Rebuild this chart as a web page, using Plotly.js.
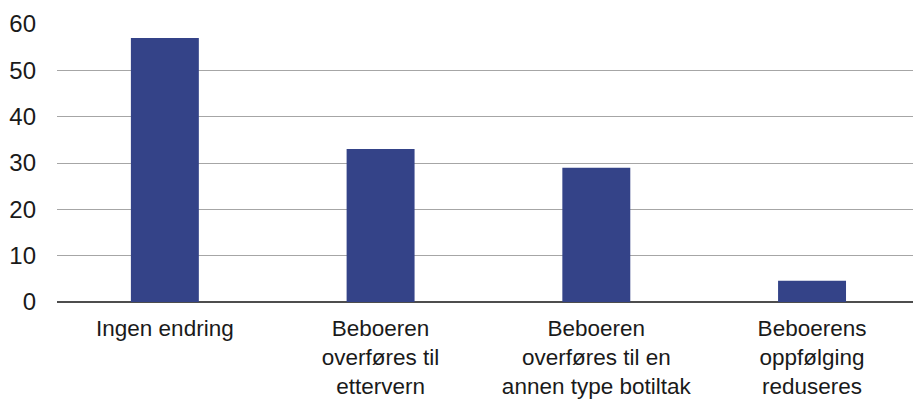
<!DOCTYPE html>
<html>
<head>
<meta charset="utf-8">
<script src="https://cdn.plot.ly/plotly-3.0.1.min.js"></script>
<style>html,body{margin:0;padding:0;background:#fff;}#chart{width:913px;height:400px;}</style>
</head>
<body>
<div id="chart"></div>
<script>
const categories = [
  "Ingen endring",
  "Beboeren<br>overføres til<br>ettervern",
  "Beboeren<br>overføres til en<br>annen type botiltak",
  "Beboerens<br>oppfølging<br>reduseres"
];
const values = [57, 33, 29, 4.6];
const yTicks = [0, 10, 20, 30, 40, 50, 60];

const trace = {
  type: 'bar',
  x: categories,
  y: values,
  width: 0.315,
  marker: {color: '#344388'},
  hoverinfo: 'x+y'
};

const layout = {
  width: 913,
  height: 400,
  margin: {l: 57, r: 0, t: 24, b: 98},
  paper_bgcolor: '#ffffff',
  plot_bgcolor: '#ffffff',
  showlegend: false,
  font: {family: 'Liberation Sans, Arial, sans-serif', size: 22.5, color: '#1a1a1a'},
  xaxis: {
    type: 'category',
    range: [-0.5, 3.468],
    showgrid: false,
    showline: false,
    ticks: '',
    tickfont: {size: 22.5, color: '#1a1a1a'},
    ticklabelstandoff: 10,
    fixedrange: true
  },
  yaxis: {
    range: [0, 60],
    tickvals: yTicks,
    ticktext: yTicks.map(String),
    showgrid: true,
    gridcolor: '#a6a6a6',
    gridwidth: 1,
    zeroline: true,
    zerolinecolor: '#4d4d4d',
    zerolinewidth: 1.5,
    showline: false,
    ticks: '',
    ticklabelstandoff: 20,
    tickfont: {size: 24, color: '#1a1a1a'},
    fixedrange: true
  }
};

Plotly.newPlot('chart', [trace], layout, {displayModeBar: false, staticPlot: true});
</script>
</body>
</html>
